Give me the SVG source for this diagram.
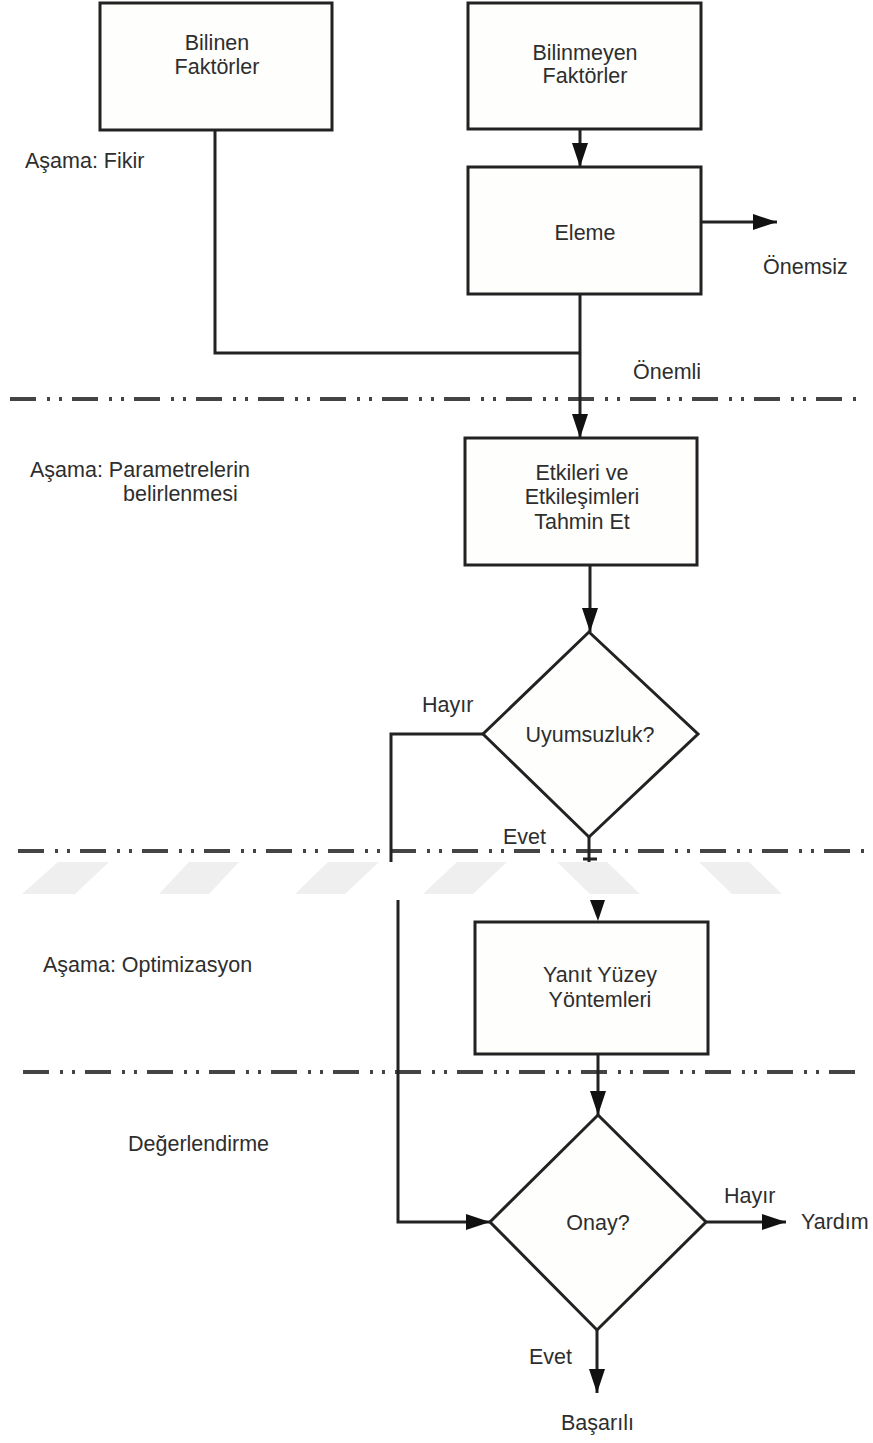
<svg xmlns="http://www.w3.org/2000/svg" width="873" height="1443" viewBox="0 0 873 1443">
<style>
.box{fill:#fefefd;stroke:#222;stroke-width:3}
.ln{fill:none;stroke:#222;stroke-width:3}
.dd{fill:none;stroke:#444;stroke-width:4;stroke-dasharray:26 11 3 9 3 10}
.t{font-family:"Liberation Sans",Arial,sans-serif;font-size:21.5px;fill:#2e2e2e}
.c{text-anchor:middle}
.wm{fill:#efefef}
</style>
<defs>
<marker id="ah" markerUnits="userSpaceOnUse" markerWidth="26" markerHeight="16" refX="24" refY="8" orient="auto" viewBox="0 0 26 16">
<path d="M0,0 L24,8 L0,16 Z" fill="#111"/>
</marker>
</defs>
<rect width="873" height="1443" fill="#fff"/>

<g id="phase-lines">
<line class="dd" x1="10" y1="399" x2="862" y2="399"/>
<line class="dd" x1="18" y1="851" x2="870" y2="851"/>
<line class="dd" x1="23" y1="1072" x2="866" y2="1072"/>
</g>

<g id="connectors">
<line class="ln" x1="580" y1="130" x2="580" y2="167" marker-end="url(#ah)"/>
<line class="ln" x1="701" y1="222" x2="777" y2="222" marker-end="url(#ah)"/>
<polyline class="ln" points="215,130 215,353 580,353"/>
<line class="ln" x1="580" y1="294" x2="580" y2="438" marker-end="url(#ah)"/>
<line class="ln" x1="590" y1="565" x2="590" y2="632" marker-end="url(#ah)"/>
<polyline class="ln" points="483,734 391,734 391,862"/>
<line class="ln" x1="589" y1="837" x2="589" y2="862"/>
<line class="ln" x1="583" y1="859" x2="597" y2="859"/>
<polygon points="590,900 605,900 598,921" fill="#111"/>
<line class="ln" x1="598" y1="1054" x2="598" y2="1115" marker-end="url(#ah)"/>
<polyline class="ln" points="398,900 398,1222 490,1222" marker-end="url(#ah)"/>
<line class="ln" x1="706" y1="1222" x2="786" y2="1222" marker-end="url(#ah)"/>
<line class="ln" x1="597" y1="1330" x2="597" y2="1393" marker-end="url(#ah)"/>
</g>

<g id="scan-band">
<rect x="0" y="862" width="873" height="38" fill="#fff"/>
<polygon class="wm" points="58,862 109,862 75,894 22,894"/>
<polygon class="wm" points="189,862 239,862 209,894 159,894"/>
<polygon class="wm" points="328,862 379,862 345,894 295,894"/>
<polygon class="wm" points="457,862 507,862 473,894 423,894"/>
<polygon class="wm" points="557,862 607,862 640,894 590,894"/>
<polygon class="wm" points="699,862 749,862 782,894 732,894"/>
</g>

<g id="n-bilinen">
<rect class="box" x="100" y="3" width="232" height="127"/>
<text class="t c" x="217" y="50">Bilinen</text>
<text class="t c" x="217" y="74">Faktörler</text>
</g>
<g id="n-bilinmeyen">
<rect class="box" x="468" y="3" width="233" height="126"/>
<text class="t c" x="585" y="60">Bilinmeyen</text>
<text class="t c" x="585" y="83">Faktörler</text>
</g>
<g id="n-eleme">
<rect class="box" x="468" y="167" width="233" height="127"/>
<text class="t c" x="585" y="240">Eleme</text>
</g>
<g id="n-etkileri">
<rect class="box" x="465" y="438" width="232" height="127"/>
<text class="t c" x="582" y="480">Etkileri ve</text>
<text class="t c" x="582" y="504">Etkileşimleri</text>
<text class="t c" x="582" y="529">Tahmin Et</text>
</g>
<g id="n-uyumsuzluk">
<polygon class="box" points="589,632 698,734 589,837 483,734"/>
<text class="t c" x="590" y="742">Uyumsuzluk?</text>
</g>
<g id="n-yanit">
<rect class="box" x="475" y="922" width="233" height="132"/>
<text class="t c" x="600" y="982">Yanıt Yüzey</text>
<text class="t c" x="600" y="1007">Yöntemleri</text>
</g>
<g id="n-onay">
<polygon class="box" points="598,1115 706,1222 597,1330 490,1222"/>
<text class="t c" x="598" y="1230">Onay?</text>
</g>

<g id="labels">
<text class="t" x="25" y="168">Aşama: Fikir</text>
<text class="t" x="763" y="274">Önemsiz</text>
<text class="t" x="633" y="379">Önemli</text>
<text class="t" x="30" y="477">Aşama: Parametrelerin</text>
<text class="t" x="123" y="501">belirlenmesi</text>
<text class="t" x="422" y="712">Hayır</text>
<text class="t" x="503" y="844">Evet</text>
<text class="t" x="43" y="972">Aşama: Optimizasyon</text>
<text class="t" x="128" y="1151">Değerlendirme</text>
<text class="t" x="724" y="1203">Hayır</text>
<text class="t" x="801" y="1229">Yardım</text>
<text class="t" x="529" y="1364">Evet</text>
<text class="t" x="561" y="1430">Başarılı</text>
</g>
</svg>
